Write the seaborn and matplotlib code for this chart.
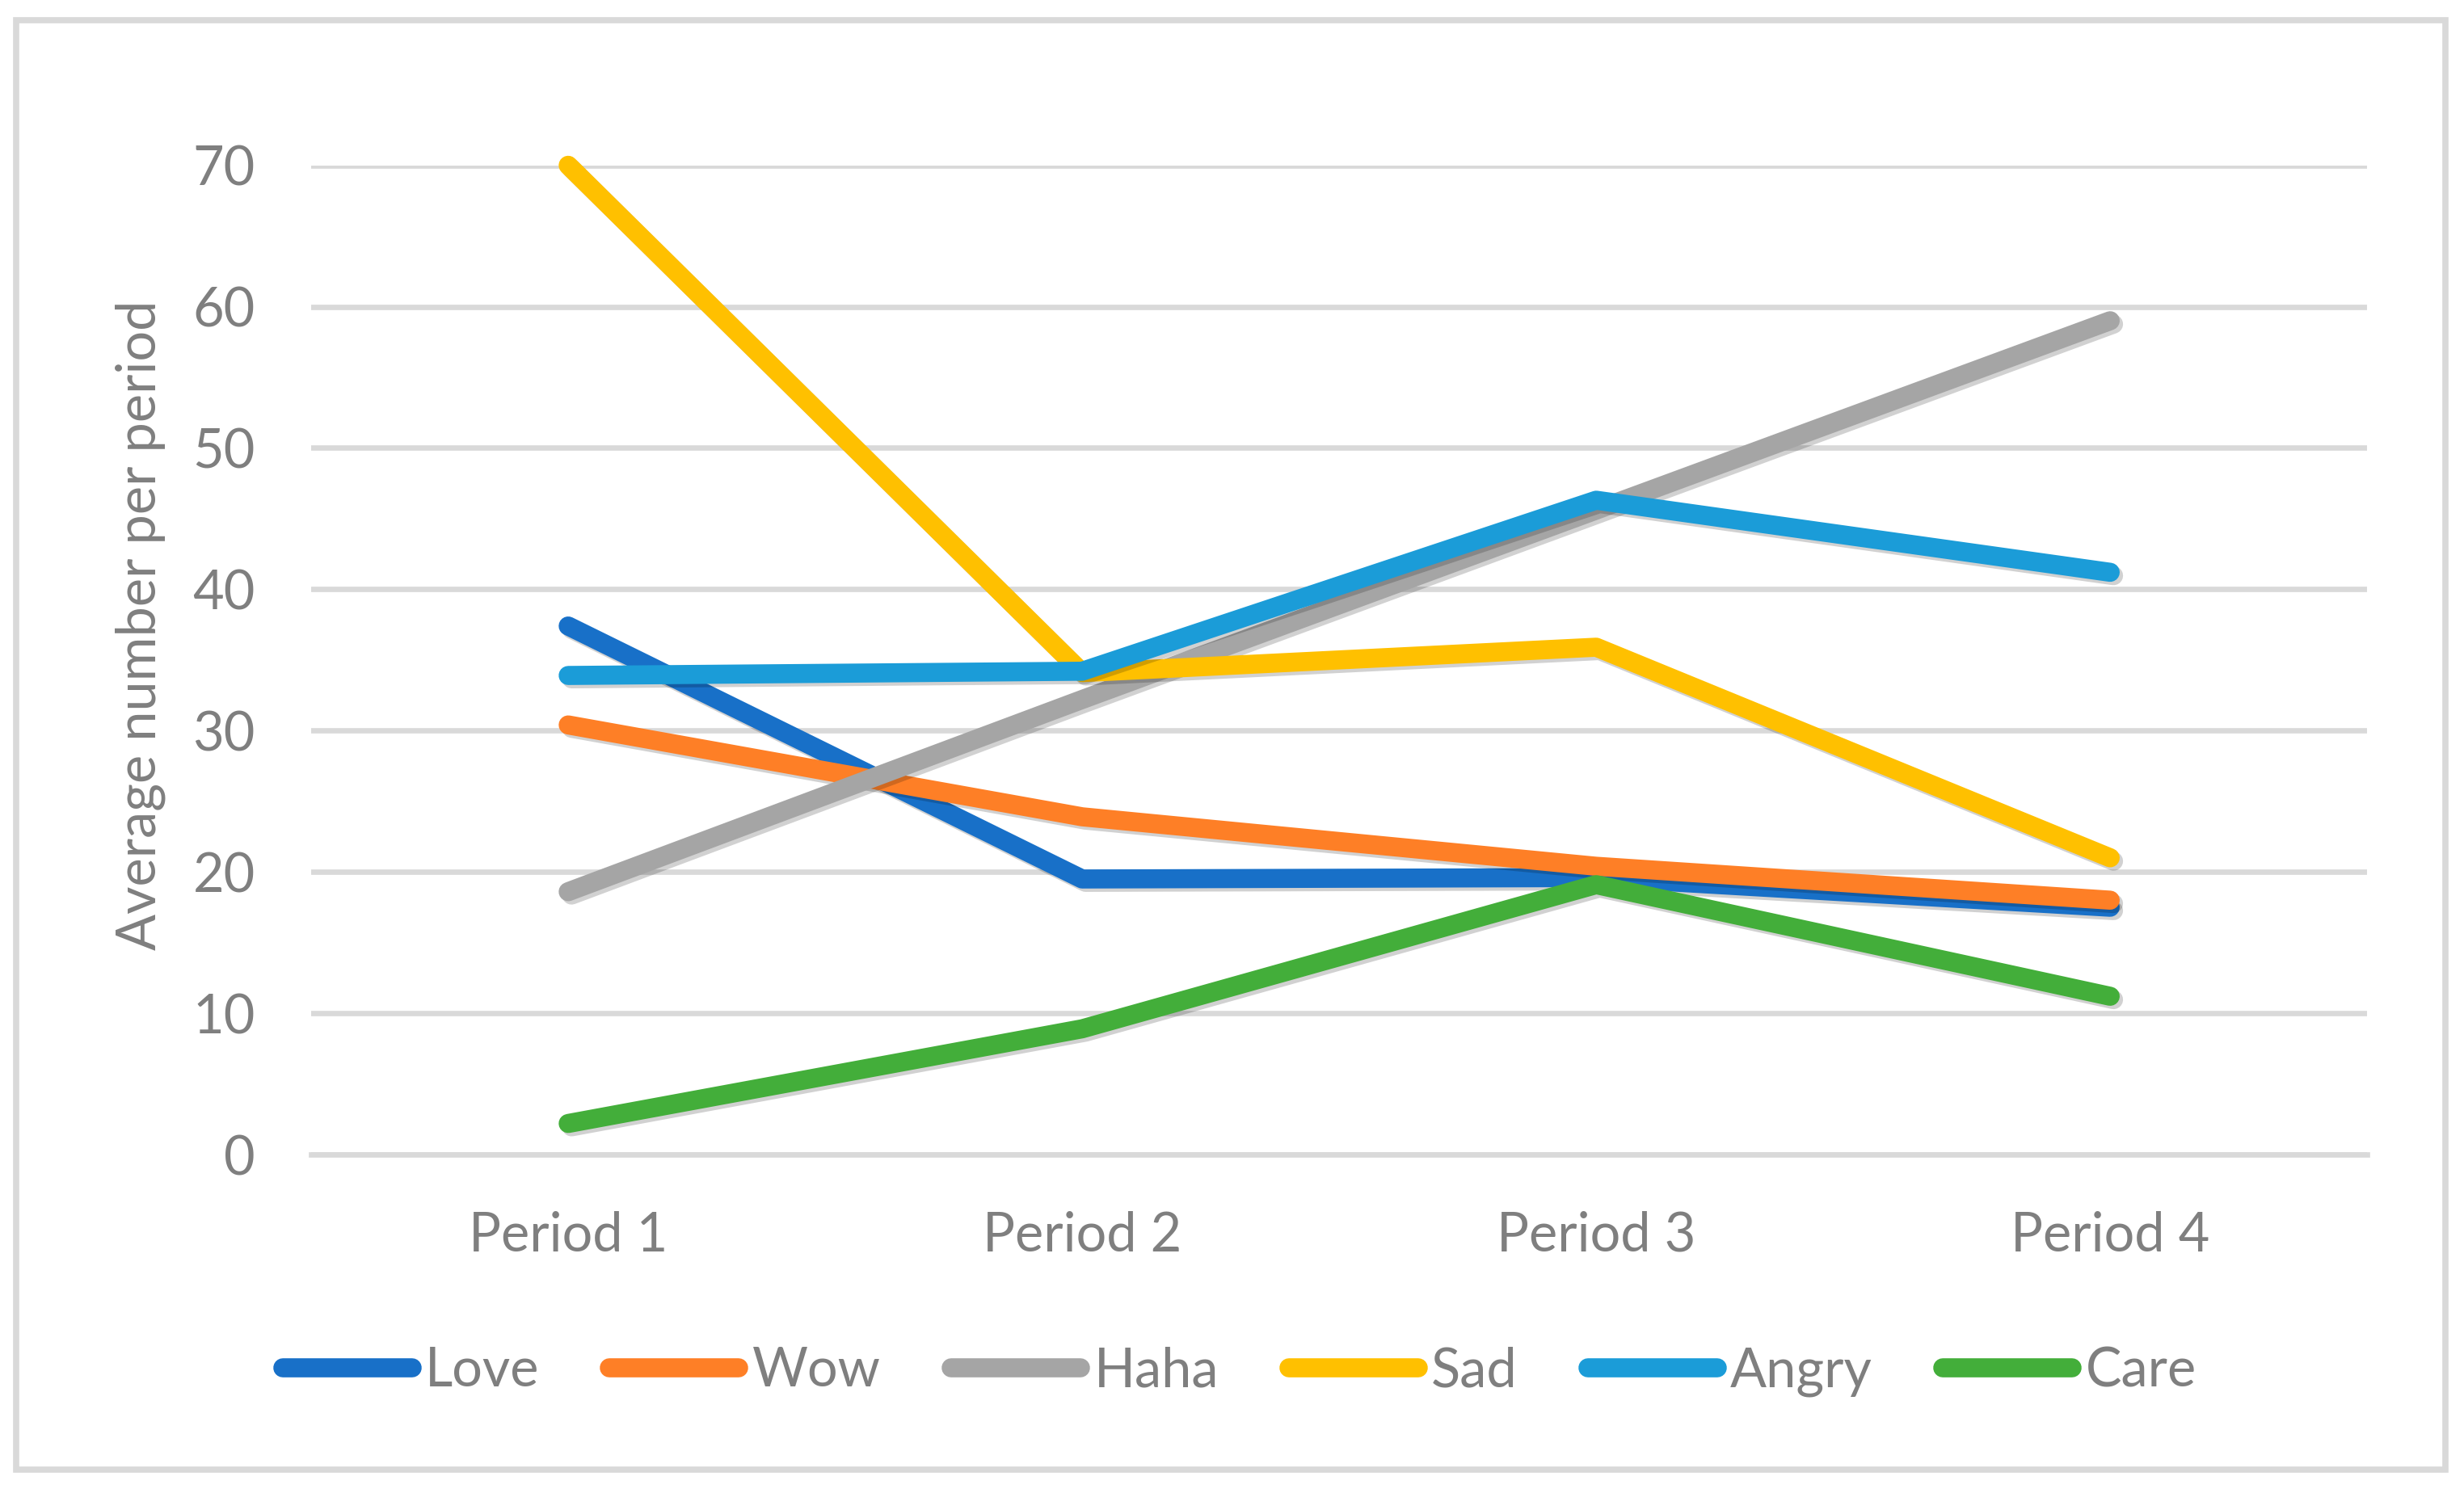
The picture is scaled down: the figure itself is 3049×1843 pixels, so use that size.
import matplotlib
matplotlib.use("Agg")
import matplotlib.pyplot as plt
import matplotlib.patheffects as pe
from matplotlib.lines import Line2D
from matplotlib.patches import Rectangle
import pandas as pd
import seaborn as sns

periods = ["Period 1", "Period 2", "Period 3", "Period 4"]
love = [37.4, 19.5, 19.6, 17.5]
wow = [30.4, 23.9, 20.4, 18.0]
haha = [18.6, 32.2, 45.6, 59.0]
sad = [70.0, 34.1, 35.9, 21.0]
angry = [33.9, 34.2, 46.3, 41.2]
care = [2.2, 8.9, 19.1, 11.2]

series = {"Love": love, "Wow": wow, "Haha": haha, "Sad": sad, "Angry": angry, "Care": care}
colors = {"Love": "#1870C8", "Wow": "#FE7F26", "Haha": "#A5A5A5",
          "Sad": "#FFC000", "Angry": "#1B9CD8", "Care": "#43AE3A"}

rows = []
for name, vals in series.items():
    for p, v in zip(periods, vals):
        rows.append({"period": p, "reaction": name, "value": v})
df = pd.DataFrame(rows)

sns.set_style("white")
plt.rcParams["font.family"] = ["Lato", "DejaVu Sans"]
text_color = "#7F7F7F"
grid_color = "#D9D9D9"
fs = 48

fig = plt.figure(figsize=(30.49, 18.43), dpi=100)
ax = fig.add_axes([0.1263, 0.2246, 0.8344, 0.6644])

lw = 17
shadow = [pe.SimpleLineShadow(offset=(3, -3), shadow_color="black", alpha=0.18), pe.Normal()]
sns.lineplot(data=df, x="period", y="value", hue="reaction", palette=colors,
             hue_order=list(series.keys()), linewidth=lw, sort=False, legend=False, ax=ax)
for line in ax.get_lines():
    line.set_solid_capstyle("round")
    line.set_solid_joinstyle("round")
    line.set_path_effects(shadow)
    line.set_clip_on(False)

ax.set_xlim(-0.5, 3.5)
ax.set_ylim(0, 70)
ax.set_yticks(range(0, 71, 10))
ax.yaxis.grid(True, color=grid_color, linewidth=4.8)
ax.set_axisbelow(True)
for s in ["top", "right", "left"]:
    ax.spines[s].set_visible(False)
ax.spines["bottom"].set_color(grid_color)
ax.spines["bottom"].set_linewidth(4.8)
ax.tick_params(axis="y", length=0, pad=50, labelsize=fs, labelcolor=text_color)
ax.tick_params(axis="x", length=0, pad=50, labelsize=fs, labelcolor=text_color)
ax.set_xlabel("")
ax.set_ylabel("Average number per period", fontsize=fs, color=text_color)
ax.yaxis.set_label_coords(-0.0708, 0.535)

handles = [Line2D([0], [0], color=colors[n], linewidth=lw, solid_capstyle="round") for n in series]
fig.legend(handles, list(series.keys()), loc="center", bbox_to_anchor=(0.503, 0.079), ncol=6,
           frameon=False, fontsize=fs, labelcolor=text_color, handlelength=2.4,
           handletextpad=0.25, columnspacing=1.3)

fig.patches.append(Rectangle((0.00656, 0.013), 0.986, 0.9734, transform=fig.transFigure,
                             fill=False, edgecolor=grid_color, linewidth=5.5))

fig.savefig("out.png", dpi=100)
plt.close(fig)
